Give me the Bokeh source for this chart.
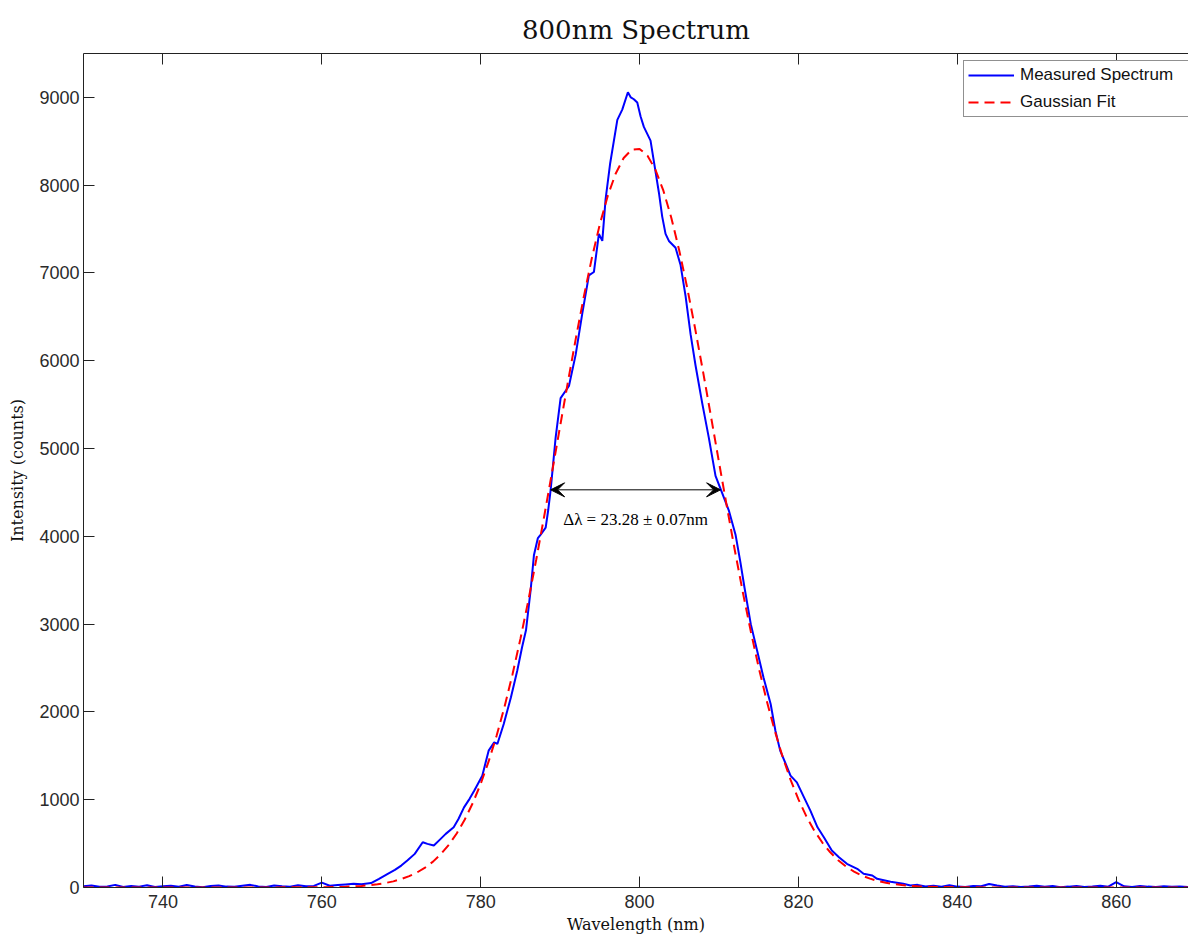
from bokeh.plotting import figure
from bokeh.models import LinearAxis, FixedTicker, Arrow, VeeHead, Label, Legend
from bokeh.embed import file_html
from bokeh.resources import INLINE

# ---------------- data ----------------
wl_measured = [
    730, 731, 732, 733, 734, 735, 736, 737, 738, 739, 740, 741, 742, 743, 744,
    745, 746, 747, 748, 749, 750, 751, 752, 753, 754, 755, 756, 757, 758, 759,
    760, 761, 762, 763, 764, 765,
    766.2, 767.2, 768.3, 769.2, 770.0, 770.8, 771.7, 772.7, 773.3, 774.1, 774.8,
    775.6, 776.6, 777.2, 777.9, 778.6, 779.2, 780.2, 781.0, 781.7, 782.1, 782.9,
    783.8, 784.6, 785.2, 785.7, 786.3, 786.7, 787.2, 787.55, 788.18, 788.5,
    788.81, 789.43, 790.06, 791.11, 791.95, 792.79, 793.62, 794.25, 794.88,
    795.31, 795.72, 796.3, 797.2, 797.82, 798.53, 798.9, 799.28, 799.71, 800.13,
    800.54, 801.38, 801.8, 802.43, 802.85, 803.27, 803.69, 804.53, 805.16,
    805.79, 806.42, 807.04, 807.89, 808.72, 809.56, 810.4, 811.23, 812.08,
    812.7, 813.2, 814.0, 814.8, 815.6, 816.5, 817.1, 817.7, 818.4, 819.0, 819.8,
    820.7, 821.5, 822.4, 823.2, 824.2, 825.1, 826.1, 827.4, 828.2, 829.3, 829.9,
    831.6, 833.2, 834.1,
    835, 836, 837, 838, 839, 840, 841, 842, 843, 844, 845, 846, 847, 848, 849,
    850, 851, 852, 853, 854, 855, 856, 857, 858, 859, 860, 861, 862, 863, 864,
    865, 866, 867, 868, 869.1,
]
counts_measured = [
    15, 22, 8, 12, 30, 5, 18, 10, 25, 6, 14, 20, 9, 28, 12,
    4, 16, 24, 10, 8, 19, 30, 12, 6, 22, 15, 9, 26, 13, 18,
    55, 20, 28, 35, 42, 38,
    50, 99, 156, 200, 250, 310, 383, 515, 497, 478, 540,
    611, 686, 780, 913, 1010, 1104, 1274, 1559, 1653, 1635, 1862,
    2165, 2469, 2734, 2930, 3400, 3784, 3980, 4019, 4099, 4300,
    4531, 5122, 5575, 5712, 6067, 6539, 6972, 7011, 7445,
    7365, 7838, 8250, 8744, 8861, 9058, 9000, 8979, 8941, 8783,
    8664, 8507, 8271, 7917, 7642, 7445, 7365, 7287, 7090,
    6736, 6303, 5949, 5515, 5122, 4689, 4493, 4296, 4019,
    3700, 3420, 3000, 2696, 2392, 2090, 1786, 1559, 1407, 1274, 1198,
    1027, 876, 686, 572, 421, 345, 270, 213, 156, 137, 99,
    65, 42, 23,
    30, 12, 20, 8, 25, 10, 6, 18, 14, 40, 22, 9, 15, 5, 12,
    20, 8, 16, 4, 10, 18, 7, 12, 20, 9, 60, 14, 6, 18, 10,
    5, 15, 8, 12, 6,
]

wl_fit = [
    730, 740, 750, 760, 762, 763,
    764, 765, 766, 767, 768, 769, 770, 771, 772, 773, 774, 775, 776, 777,
    778, 779, 780, 781, 782, 783, 784, 785, 786, 787, 788, 789, 790, 791,
    792, 793, 794, 795, 796, 797, 798, 799, 800, 801, 802, 803, 804, 805,
    806, 807, 808, 809, 810, 811, 812, 813, 814, 815, 816, 817, 818, 819,
    820, 821, 822, 823, 824, 825, 826, 827, 828, 829, 830, 831, 832, 833,
    834, 835, 836, 838, 840, 850, 860, 869.1,
]
counts_fit = [
    0, 0, 0, 3, 6, 9,
    13, 18, 26, 37, 51, 70, 96, 129, 172, 226, 295, 382, 488, 618,
    775, 961, 1181, 1436, 1728, 2058, 2427, 2832, 3271, 3739, 4232, 4740, 5256, 5769,
    6267, 6739, 7173, 7557, 7880, 8134, 8310, 8405, 8413, 8336, 8176, 7937, 7627, 7254,
    6830, 6364, 5870, 5360, 4843, 4333, 3836, 3362, 2917, 2504, 2129, 1791, 1491, 1229,
    1003, 810, 647, 512, 401, 311, 239, 181, 136, 101, 75, 55, 39, 28,
    20, 14, 10, 5, 2, 0, 0, 0,
]

x_ticks = [740, 760, 780, 800, 820, 840, 860]
y_ticks = [0, 1000, 2000, 3000, 4000, 5000, 6000, 7000, 8000, 9000]

fwhm_left = 788.8
fwhm_right = 810.2
fwhm_level = 4530
fwhm_text = "\u0394\u03bb = 23.28 \u00b1 0.07nm"
fwhm_text_x = 799.5
fwhm_text_y = 4190

# ---------------- figure ----------------
p = figure(
    width=1188, height=937,
    x_range=(730, 869.1), y_range=(0, 9500),
    output_backend="svg", toolbar_location=None,
    x_axis_location=None, y_axis_location=None,
    min_border_left=83, min_border_right=0, min_border_top=53, min_border_bottom=50,
    background_fill_color="white", border_fill_color="white",
)
p.outline_line_color = None
p.xgrid.visible = False
p.ygrid.visible = False

p.title.text = "800nm Spectrum"
p.title.align = "center"
p.title.text_font = "DejaVu Serif"
p.title.text_font_size = "26px"
p.title.text_font_style = "normal"
p.title.text_color = "#111111"
p.title.standoff = 18

tick_font = "Liberation Sans"

xaxis = LinearAxis(ticker=FixedTicker(ticks=x_ticks))
xaxis.axis_label = "Wavelength (nm)"
yaxis = LinearAxis(ticker=FixedTicker(ticks=y_ticks))
yaxis.axis_label = "Intensity (counts)"
topaxis = LinearAxis(ticker=FixedTicker(ticks=x_ticks))

for ax in (xaxis, yaxis, topaxis):
    ax.major_tick_in = 11
    ax.major_tick_out = 0
    ax.minor_tick_line_color = None
    ax.axis_line_color = "#222222"
    ax.major_tick_line_color = "#222222"
    ax.major_label_text_font = tick_font
    ax.major_label_text_font_size = "18px"
    ax.major_label_text_color = "#2a2a2a"
    ax.axis_label_text_font = "DejaVu Serif"
    ax.axis_label_text_font_size = "16px"
    ax.axis_label_text_font_style = "normal"
    ax.axis_label_text_color = "#111111"

xaxis.major_label_standoff = 7
xaxis.axis_label_standoff = 4
yaxis.major_label_standoff = 4
yaxis.axis_label_standoff = 9
topaxis.major_label_text_font_size = "1px"
topaxis.major_label_text_color = None
topaxis.major_label_standoff = 0

p.add_layout(xaxis, "below")
p.add_layout(yaxis, "left")
p.add_layout(topaxis, "above")

# ---------------- data lines ----------------
r_meas = p.line(wl_measured, counts_measured, line_color="#0000ff", line_width=2)
r_fit = p.line(wl_fit, counts_fit, line_color="#ff0000", line_width=2, line_dash="10 6")

legend = Legend(
    items=[("Measured Spectrum", [r_meas]), ("Gaussian Fit", [r_fit])],
    location=(880, 770),
    label_text_font=tick_font, label_text_font_size="17px", label_text_color="#111111",
    glyph_width=46, glyph_height=18, label_height=18, label_width=230, spacing=7,
    padding=4, margin=0, label_standoff=6,
    border_line_color="#222222", border_line_width=1,
    background_fill_color="white", background_fill_alpha=1,
)
p.add_layout(legend)

# ---------------- FWHM annotation ----------------
p.add_layout(Arrow(
    x_start=fwhm_left, y_start=fwhm_level, x_end=fwhm_right, y_end=fwhm_level,
    line_color="black", line_width=1,
    start=VeeHead(size=14, fill_color="black", line_color="black"),
    end=VeeHead(size=14, fill_color="black", line_color="black"),
))
p.add_layout(Label(
    x=fwhm_text_x, y=fwhm_text_y, text=fwhm_text,
    text_font="Liberation Serif", text_font_size="17px", text_color="black",
    text_align="center", text_baseline="middle",
))

open("out.html", "w").write(file_html(p, INLINE))
